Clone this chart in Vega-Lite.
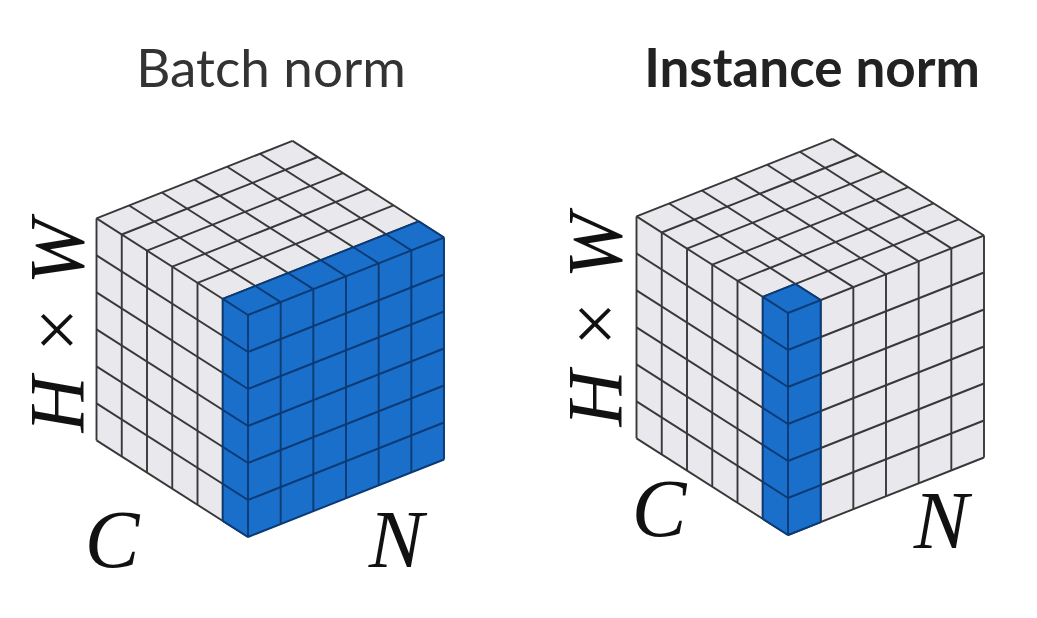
{
  "$schema": "https://vega.github.io/schema/vega-lite/v6.json",
  "width": 1037,
  "height": 618,
  "autosize": {"type": "fit", "contains": "padding"},
  "padding": 0,
  "background": "white",
  "config": {"view": {"stroke": null}},
  "datasets": {
    "faces": [
      {"poly": "a_left", "kind": "plain", "i": 0, "x": 248, "y": 537},
      {"poly": "a_left", "kind": "plain", "i": 1, "x": 96.5, "y": 440.4},
      {"poly": "a_left", "kind": "plain", "i": 2, "x": 96.5, "y": 218.4},
      {"poly": "a_left", "kind": "plain", "i": 3, "x": 248, "y": 315},
      {"poly": "a_top", "kind": "plain", "i": 0, "x": 248, "y": 315},
      {"poly": "a_top", "kind": "plain", "i": 1, "x": 96.5, "y": 218.4},
      {"poly": "a_top", "kind": "plain", "i": 2, "x": 292.5, "y": 140.9},
      {"poly": "a_top", "kind": "plain", "i": 3, "x": 444, "y": 237.5},
      {"poly": "b_left", "kind": "plain", "i": 0, "x": 788, "y": 535},
      {"poly": "b_left", "kind": "plain", "i": 1, "x": 636.5, "y": 438.4},
      {"poly": "b_left", "kind": "plain", "i": 2, "x": 636.5, "y": 216.4},
      {"poly": "b_left", "kind": "plain", "i": 3, "x": 788, "y": 313},
      {"poly": "b_right", "kind": "plain", "i": 0, "x": 788, "y": 535},
      {"poly": "b_right", "kind": "plain", "i": 1, "x": 984, "y": 457.5},
      {"poly": "b_right", "kind": "plain", "i": 2, "x": 984, "y": 235.5},
      {"poly": "b_right", "kind": "plain", "i": 3, "x": 788, "y": 313},
      {"poly": "b_top", "kind": "plain", "i": 0, "x": 788, "y": 313},
      {"poly": "b_top", "kind": "plain", "i": 1, "x": 636.5, "y": 216.4},
      {"poly": "b_top", "kind": "plain", "i": 2, "x": 832.5, "y": 138.9},
      {"poly": "b_top", "kind": "plain", "i": 3, "x": 984, "y": 235.5},
      {"poly": "ab_right", "kind": "blue", "i": 0, "x": 248, "y": 537},
      {"poly": "ab_right", "kind": "blue", "i": 1, "x": 444, "y": 459.5},
      {"poly": "ab_right", "kind": "blue", "i": 2, "x": 444, "y": 237.5},
      {"poly": "ab_right", "kind": "blue", "i": 3, "x": 248, "y": 315},
      {"poly": "ab_top", "kind": "blue", "i": 0, "x": 248, "y": 315},
      {"poly": "ab_top", "kind": "blue", "i": 1, "x": 444, "y": 237.5},
      {"poly": "ab_top", "kind": "blue", "i": 2, "x": 418.75, "y": 221.4},
      {"poly": "ab_top", "kind": "blue", "i": 3, "x": 222.75, "y": 298.9},
      {"poly": "ab_left", "kind": "blue", "i": 0, "x": 248, "y": 537},
      {"poly": "ab_left", "kind": "blue", "i": 1, "x": 248, "y": 315},
      {"poly": "ab_left", "kind": "blue", "i": 2, "x": 222.75, "y": 298.9},
      {"poly": "ab_left", "kind": "blue", "i": 3, "x": 222.75, "y": 520.9},
      {"poly": "bb_left", "kind": "blue", "i": 0, "x": 788, "y": 535},
      {"poly": "bb_left", "kind": "blue", "i": 1, "x": 788, "y": 313},
      {"poly": "bb_left", "kind": "blue", "i": 2, "x": 762.75, "y": 296.9},
      {"poly": "bb_left", "kind": "blue", "i": 3, "x": 762.75, "y": 518.9},
      {"poly": "bb_right", "kind": "blue", "i": 0, "x": 788, "y": 535},
      {"poly": "bb_right", "kind": "blue", "i": 1, "x": 820.67, "y": 522.08},
      {"poly": "bb_right", "kind": "blue", "i": 2, "x": 820.67, "y": 300.08},
      {"poly": "bb_right", "kind": "blue", "i": 3, "x": 788, "y": 313},
      {"poly": "bb_top", "kind": "blue", "i": 0, "x": 788, "y": 313},
      {"poly": "bb_top", "kind": "blue", "i": 1, "x": 820.67, "y": 300.08},
      {"poly": "bb_top", "kind": "blue", "i": 2, "x": 795.42, "y": 283.98},
      {"poly": "bb_top", "kind": "blue", "i": 3, "x": 762.75, "y": 296.9}
    ],
    "edges": [
      {"kind": "plain", "x": 248, "y": 537, "x2": 248, "y2": 315},
      {"kind": "plain", "x": 222.75, "y": 520.9, "x2": 222.75, "y2": 298.9},
      {"kind": "plain", "x": 197.5, "y": 504.8, "x2": 197.5, "y2": 282.8},
      {"kind": "plain", "x": 172.25, "y": 488.7, "x2": 172.25, "y2": 266.7},
      {"kind": "plain", "x": 147, "y": 472.6, "x2": 147, "y2": 250.6},
      {"kind": "plain", "x": 121.75, "y": 456.5, "x2": 121.75, "y2": 234.5},
      {"kind": "plain", "x": 96.5, "y": 440.4, "x2": 96.5, "y2": 218.4},
      {"kind": "plain", "x": 248, "y": 537, "x2": 96.5, "y2": 440.4},
      {"kind": "plain", "x": 248, "y": 500, "x2": 96.5, "y2": 403.4},
      {"kind": "plain", "x": 248, "y": 463, "x2": 96.5, "y2": 366.4},
      {"kind": "plain", "x": 248, "y": 426, "x2": 96.5, "y2": 329.4},
      {"kind": "plain", "x": 248, "y": 389, "x2": 96.5, "y2": 292.4},
      {"kind": "plain", "x": 248, "y": 352, "x2": 96.5, "y2": 255.4},
      {"kind": "plain", "x": 248, "y": 315, "x2": 96.5, "y2": 218.4},
      {"kind": "plain", "x": 248, "y": 315, "x2": 444, "y2": 237.5},
      {"kind": "plain", "x": 222.75, "y": 298.9, "x2": 418.75, "y2": 221.4},
      {"kind": "plain", "x": 197.5, "y": 282.8, "x2": 393.5, "y2": 205.3},
      {"kind": "plain", "x": 172.25, "y": 266.7, "x2": 368.25, "y2": 189.2},
      {"kind": "plain", "x": 147, "y": 250.6, "x2": 343, "y2": 173.1},
      {"kind": "plain", "x": 121.75, "y": 234.5, "x2": 317.75, "y2": 157},
      {"kind": "plain", "x": 96.5, "y": 218.4, "x2": 292.5, "y2": 140.9},
      {"kind": "plain", "x": 280.67, "y": 302.08, "x2": 129.17, "y2": 205.48},
      {"kind": "plain", "x": 313.33, "y": 289.17, "x2": 161.83, "y2": 192.57},
      {"kind": "plain", "x": 346, "y": 276.25, "x2": 194.5, "y2": 179.65},
      {"kind": "plain", "x": 378.67, "y": 263.33, "x2": 227.17, "y2": 166.73},
      {"kind": "plain", "x": 411.33, "y": 250.42, "x2": 259.83, "y2": 153.82},
      {"kind": "plain", "x": 444, "y": 237.5, "x2": 292.5, "y2": 140.9},

      {"kind": "plain", "x": 788, "y": 535, "x2": 788, "y2": 313},
      {"kind": "plain", "x": 762.75, "y": 518.9, "x2": 762.75, "y2": 296.9},
      {"kind": "plain", "x": 737.5, "y": 502.8, "x2": 737.5, "y2": 280.8},
      {"kind": "plain", "x": 712.25, "y": 486.7, "x2": 712.25, "y2": 264.7},
      {"kind": "plain", "x": 687, "y": 470.6, "x2": 687, "y2": 248.6},
      {"kind": "plain", "x": 661.75, "y": 454.5, "x2": 661.75, "y2": 232.5},
      {"kind": "plain", "x": 636.5, "y": 438.4, "x2": 636.5, "y2": 216.4},
      {"kind": "plain", "x": 788, "y": 535, "x2": 636.5, "y2": 438.4},
      {"kind": "plain", "x": 788, "y": 498, "x2": 636.5, "y2": 401.4},
      {"kind": "plain", "x": 788, "y": 461, "x2": 636.5, "y2": 364.4},
      {"kind": "plain", "x": 788, "y": 424, "x2": 636.5, "y2": 327.4},
      {"kind": "plain", "x": 788, "y": 387, "x2": 636.5, "y2": 290.4},
      {"kind": "plain", "x": 788, "y": 350, "x2": 636.5, "y2": 253.4},
      {"kind": "plain", "x": 788, "y": 313, "x2": 636.5, "y2": 216.4},
      {"kind": "plain", "x": 820.67, "y": 522.08, "x2": 820.67, "y2": 300.08},
      {"kind": "plain", "x": 853.33, "y": 509.17, "x2": 853.33, "y2": 287.17},
      {"kind": "plain", "x": 886, "y": 496.25, "x2": 886, "y2": 274.25},
      {"kind": "plain", "x": 918.67, "y": 483.33, "x2": 918.67, "y2": 261.33},
      {"kind": "plain", "x": 951.33, "y": 470.42, "x2": 951.33, "y2": 248.42},
      {"kind": "plain", "x": 984, "y": 457.5, "x2": 984, "y2": 235.5},
      {"kind": "plain", "x": 788, "y": 535, "x2": 984, "y2": 457.5},
      {"kind": "plain", "x": 788, "y": 498, "x2": 984, "y2": 420.5},
      {"kind": "plain", "x": 788, "y": 461, "x2": 984, "y2": 383.5},
      {"kind": "plain", "x": 788, "y": 424, "x2": 984, "y2": 346.5},
      {"kind": "plain", "x": 788, "y": 387, "x2": 984, "y2": 309.5},
      {"kind": "plain", "x": 788, "y": 350, "x2": 984, "y2": 272.5},
      {"kind": "plain", "x": 788, "y": 313, "x2": 984, "y2": 235.5},
      {"kind": "plain", "x": 762.75, "y": 296.9, "x2": 958.75, "y2": 219.4},
      {"kind": "plain", "x": 737.5, "y": 280.8, "x2": 933.5, "y2": 203.3},
      {"kind": "plain", "x": 712.25, "y": 264.7, "x2": 908.25, "y2": 187.2},
      {"kind": "plain", "x": 687, "y": 248.6, "x2": 883, "y2": 171.1},
      {"kind": "plain", "x": 661.75, "y": 232.5, "x2": 857.75, "y2": 155},
      {"kind": "plain", "x": 636.5, "y": 216.4, "x2": 832.5, "y2": 138.9},
      {"kind": "plain", "x": 820.67, "y": 300.08, "x2": 669.17, "y2": 203.48},
      {"kind": "plain", "x": 853.33, "y": 287.17, "x2": 701.83, "y2": 190.57},
      {"kind": "plain", "x": 886, "y": 274.25, "x2": 734.5, "y2": 177.65},
      {"kind": "plain", "x": 918.67, "y": 261.33, "x2": 767.17, "y2": 164.73},
      {"kind": "plain", "x": 951.33, "y": 248.42, "x2": 799.83, "y2": 151.82},
      {"kind": "plain", "x": 984, "y": 235.5, "x2": 832.5, "y2": 138.9},

      {"kind": "blue", "x": 248, "y": 537, "x2": 248, "y2": 315},
      {"kind": "blue", "x": 280.67, "y": 524.08, "x2": 280.67, "y2": 302.08},
      {"kind": "blue", "x": 313.33, "y": 511.17, "x2": 313.33, "y2": 289.17},
      {"kind": "blue", "x": 346, "y": 498.25, "x2": 346, "y2": 276.25},
      {"kind": "blue", "x": 378.67, "y": 485.33, "x2": 378.67, "y2": 263.33},
      {"kind": "blue", "x": 411.33, "y": 472.42, "x2": 411.33, "y2": 250.42},
      {"kind": "blue", "x": 444, "y": 459.5, "x2": 444, "y2": 237.5},
      {"kind": "blue", "x": 248, "y": 537, "x2": 444, "y2": 459.5},
      {"kind": "blue", "x": 248, "y": 500, "x2": 444, "y2": 422.5},
      {"kind": "blue", "x": 248, "y": 463, "x2": 444, "y2": 385.5},
      {"kind": "blue", "x": 248, "y": 426, "x2": 444, "y2": 348.5},
      {"kind": "blue", "x": 248, "y": 389, "x2": 444, "y2": 311.5},
      {"kind": "blue", "x": 248, "y": 352, "x2": 444, "y2": 274.5},
      {"kind": "blue", "x": 248, "y": 315, "x2": 444, "y2": 237.5},
      {"kind": "blue", "x": 222.75, "y": 298.9, "x2": 418.75, "y2": 221.4},
      {"kind": "blue", "x": 248, "y": 315, "x2": 222.75, "y2": 298.9},
      {"kind": "blue", "x": 280.67, "y": 302.08, "x2": 255.42, "y2": 285.98},
      {"kind": "blue", "x": 313.33, "y": 289.17, "x2": 288.08, "y2": 273.07},
      {"kind": "blue", "x": 346, "y": 276.25, "x2": 320.75, "y2": 260.15},
      {"kind": "blue", "x": 378.67, "y": 263.33, "x2": 353.42, "y2": 247.23},
      {"kind": "blue", "x": 411.33, "y": 250.42, "x2": 386.08, "y2": 234.32},
      {"kind": "blue", "x": 444, "y": 237.5, "x2": 418.75, "y2": 221.4},
      {"kind": "blue", "x": 222.75, "y": 520.9, "x2": 222.75, "y2": 298.9},
      {"kind": "blue", "x": 248, "y": 537, "x2": 222.75, "y2": 520.9},
      {"kind": "blue", "x": 248, "y": 500, "x2": 222.75, "y2": 483.9},
      {"kind": "blue", "x": 248, "y": 463, "x2": 222.75, "y2": 446.9},
      {"kind": "blue", "x": 248, "y": 426, "x2": 222.75, "y2": 409.9},
      {"kind": "blue", "x": 248, "y": 389, "x2": 222.75, "y2": 372.9},
      {"kind": "blue", "x": 248, "y": 352, "x2": 222.75, "y2": 335.9},

      {"kind": "blue", "x": 788, "y": 535, "x2": 788, "y2": 313},
      {"kind": "blue", "x": 762.75, "y": 518.9, "x2": 762.75, "y2": 296.9},
      {"kind": "blue", "x": 820.67, "y": 522.08, "x2": 820.67, "y2": 300.08},
      {"kind": "blue", "x": 788, "y": 535, "x2": 762.75, "y2": 518.9},
      {"kind": "blue", "x": 788, "y": 498, "x2": 762.75, "y2": 481.9},
      {"kind": "blue", "x": 788, "y": 461, "x2": 762.75, "y2": 444.9},
      {"kind": "blue", "x": 788, "y": 424, "x2": 762.75, "y2": 407.9},
      {"kind": "blue", "x": 788, "y": 387, "x2": 762.75, "y2": 370.9},
      {"kind": "blue", "x": 788, "y": 350, "x2": 762.75, "y2": 333.9},
      {"kind": "blue", "x": 788, "y": 313, "x2": 762.75, "y2": 296.9},
      {"kind": "blue", "x": 788, "y": 535, "x2": 820.67, "y2": 522.08},
      {"kind": "blue", "x": 788, "y": 498, "x2": 820.67, "y2": 485.08},
      {"kind": "blue", "x": 788, "y": 461, "x2": 820.67, "y2": 448.08},
      {"kind": "blue", "x": 788, "y": 424, "x2": 820.67, "y2": 411.08},
      {"kind": "blue", "x": 788, "y": 387, "x2": 820.67, "y2": 374.08},
      {"kind": "blue", "x": 788, "y": 350, "x2": 820.67, "y2": 337.08},
      {"kind": "blue", "x": 788, "y": 313, "x2": 820.67, "y2": 300.08},
      {"kind": "blue", "x": 820.67, "y": 300.08, "x2": 795.42, "y2": 283.98},
      {"kind": "blue", "x": 762.75, "y": 296.9, "x2": 795.42, "y2": 283.98}
    ],
    "labels": [
      {"role": "title", "x": 271, "y": 87, "text": "Batch norm"},
      {"role": "titleBold", "x": 812, "y": 87, "text": "Instance norm"},
      {"role": "dim", "x": 112, "y": 567, "text": "C"},
      {"role": "dim", "x": 396, "y": 567, "text": "N"},
      {"role": "dim", "x": 659, "y": 536, "text": "C"},
      {"role": "dim", "x": 941, "y": 548, "text": "N"},
      {"role": "dimV", "x": 83, "y": 326, "text": "H × W"},
      {"role": "dimV", "x": 621, "y": 320, "text": "H × W"}
    ]
  },
  "layer": [
    {
      "data": {"name": "faces"},
      "transform": [{"filter": "datum.kind == 'plain'"}],
      "mark": {"type": "line", "interpolate": "linear-closed", "fill": "#e9e9ed", "stroke": "#e9e9ed", "strokeWidth": 1},
      "encoding": {
        "x": {"field": "x", "type": "quantitative", "scale": {"domain": [0, 1037], "nice": false, "zero": false}, "axis": null},
        "y": {"field": "y", "type": "quantitative", "scale": {"domain": [0, 618], "nice": false, "zero": false, "reverse": true}, "axis": null},
        "detail": {"field": "poly"},
        "order": {"field": "i"}
      }
    },
    {
      "data": {"name": "edges"},
      "transform": [{"filter": "datum.kind == 'plain'"}],
      "mark": {"type": "rule", "color": "#383838", "strokeWidth": 1.9},
      "encoding": {
        "x": {"field": "x", "type": "quantitative", "scale": {"domain": [0, 1037], "nice": false, "zero": false}, "axis": null},
        "y": {"field": "y", "type": "quantitative", "scale": {"domain": [0, 618], "nice": false, "zero": false, "reverse": true}, "axis": null},
        "x2": {"field": "x2"},
        "y2": {"field": "y2"}
      }
    },
    {
      "data": {"name": "faces"},
      "transform": [{"filter": "datum.kind == 'blue'"}],
      "mark": {"type": "line", "interpolate": "linear-closed", "fill": "#1a6fca", "stroke": "#1a6fca", "strokeWidth": 1},
      "encoding": {
        "x": {"field": "x", "type": "quantitative", "scale": {"domain": [0, 1037], "nice": false, "zero": false}, "axis": null},
        "y": {"field": "y", "type": "quantitative", "scale": {"domain": [0, 618], "nice": false, "zero": false, "reverse": true}, "axis": null},
        "detail": {"field": "poly"},
        "order": {"field": "i"}
      }
    },
    {
      "data": {"name": "edges"},
      "transform": [{"filter": "datum.kind == 'blue'"}],
      "mark": {"type": "rule", "color": "#0c3a75", "strokeWidth": 1.9},
      "encoding": {
        "x": {"field": "x", "type": "quantitative", "scale": {"domain": [0, 1037], "nice": false, "zero": false}, "axis": null},
        "y": {"field": "y", "type": "quantitative", "scale": {"domain": [0, 618], "nice": false, "zero": false, "reverse": true}, "axis": null},
        "x2": {"field": "x2"},
        "y2": {"field": "y2"}
      }
    },
    {
      "data": {"name": "labels"},
      "transform": [{"filter": "datum.role == 'title'"}],
      "mark": {"type": "text", "font": "Lato", "fontSize": 53, "color": "#333333", "align": "center", "baseline": "alphabetic"},
      "encoding": {
        "x": {"field": "x", "type": "quantitative", "scale": {"domain": [0, 1037], "nice": false, "zero": false}, "axis": null},
        "y": {"field": "y", "type": "quantitative", "scale": {"domain": [0, 618], "nice": false, "zero": false, "reverse": true}, "axis": null},
        "text": {"field": "text"}
      }
    },
    {
      "data": {"name": "labels"},
      "transform": [{"filter": "datum.role == 'titleBold'"}],
      "mark": {"type": "text", "font": "Lato", "fontSize": 53, "fontWeight": "bold", "color": "#222222", "align": "center", "baseline": "alphabetic"},
      "encoding": {
        "x": {"field": "x", "type": "quantitative", "scale": {"domain": [0, 1037], "nice": false, "zero": false}, "axis": null},
        "y": {"field": "y", "type": "quantitative", "scale": {"domain": [0, 618], "nice": false, "zero": false, "reverse": true}, "axis": null},
        "text": {"field": "text"}
      }
    },
    {
      "data": {"name": "labels"},
      "transform": [{"filter": "datum.role == 'dim'"}],
      "mark": {"type": "text", "font": "Liberation Serif, Times New Roman, serif", "fontStyle": "italic", "fontSize": 82, "color": "#111111", "align": "center", "baseline": "alphabetic"},
      "encoding": {
        "x": {"field": "x", "type": "quantitative", "scale": {"domain": [0, 1037], "nice": false, "zero": false}, "axis": null},
        "y": {"field": "y", "type": "quantitative", "scale": {"domain": [0, 618], "nice": false, "zero": false, "reverse": true}, "axis": null},
        "text": {"field": "text"}
      }
    },
    {
      "data": {"name": "labels"},
      "transform": [{"filter": "datum.role == 'dimV'"}],
      "mark": {"type": "text", "font": "Liberation Serif, Times New Roman, serif", "fontStyle": "italic", "fontSize": 78, "color": "#111111", "align": "center", "baseline": "alphabetic", "angle": 270},
      "encoding": {
        "x": {"field": "x", "type": "quantitative", "scale": {"domain": [0, 1037], "nice": false, "zero": false}, "axis": null},
        "y": {"field": "y", "type": "quantitative", "scale": {"domain": [0, 618], "nice": false, "zero": false, "reverse": true}, "axis": null},
        "text": {"field": "text"}
      }
    }
  ]
}
